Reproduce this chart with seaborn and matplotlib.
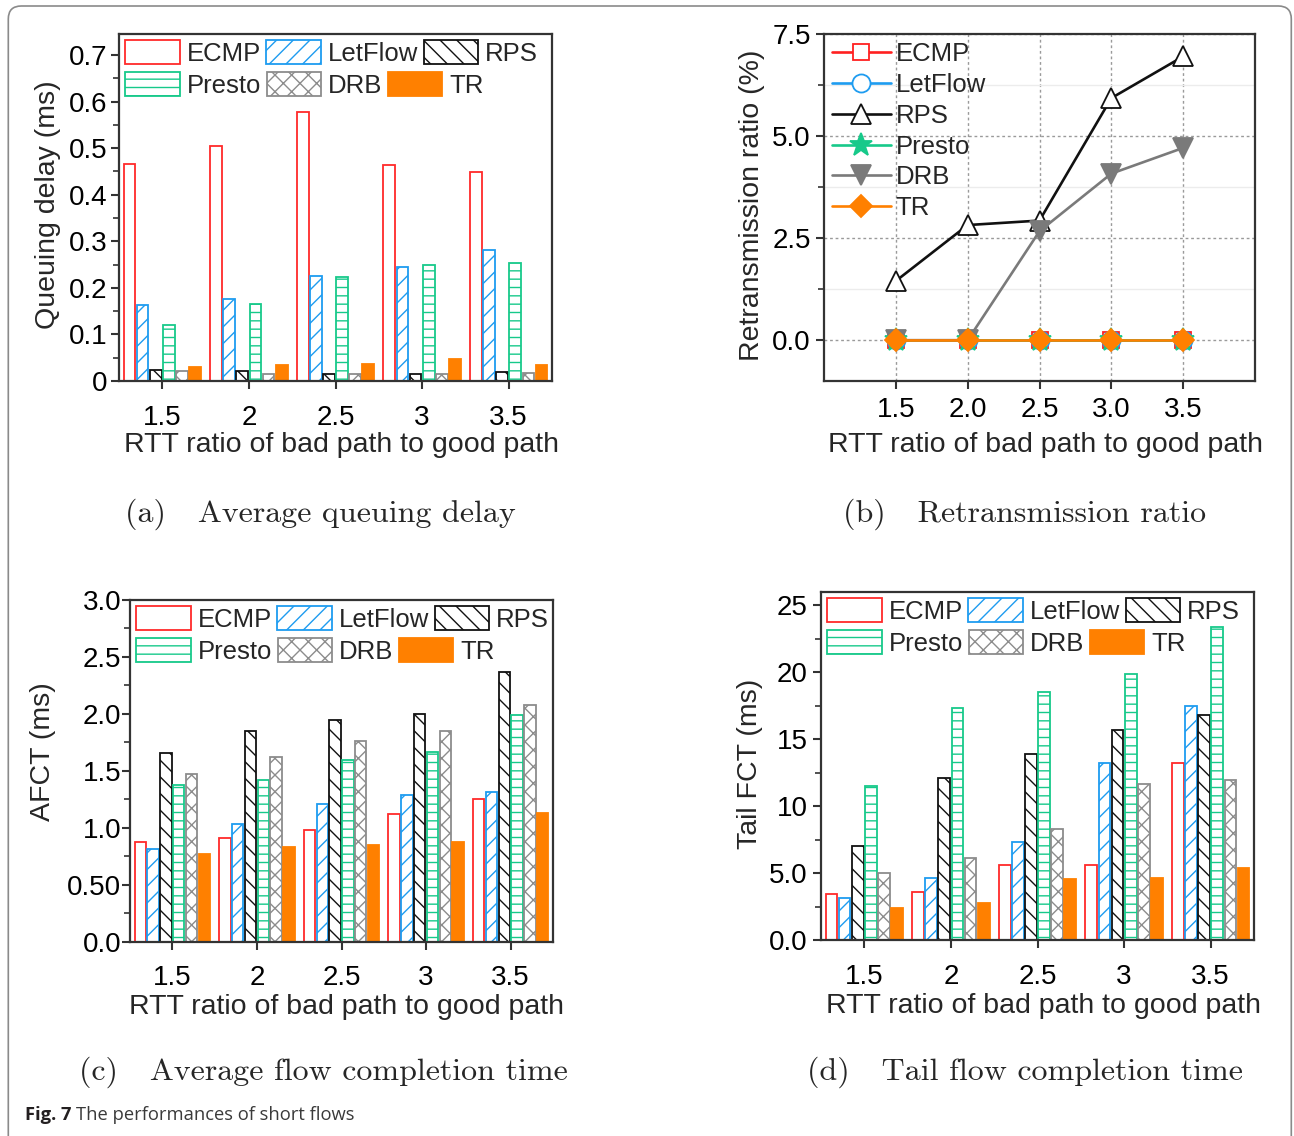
import numpy as np
import pandas as pd
import matplotlib
matplotlib.use("Agg")
import matplotlib.pyplot as plt
import matplotlib.transforms as mtransforms
import seaborn as sns
from matplotlib.patches import FancyBboxPatch, Patch
from matplotlib.ticker import MultipleLocator, FixedLocator, FixedFormatter

# ---------------------------------------------------------------- data
schemes = ["ECMP", "LetFlow", "RPS", "Presto", "DRB", "TR"]
rtt_labels = ["1.5", "2", "2.5", "3", "3.5"]
rtt_values = [1.5, 2.0, 2.5, 3.0, 3.5]
rtt_tick_labels_b = ["1.5", "2.0", "2.5", "3.0", "3.5"]

# average queuing delay (ms)
queuing_delay = {
    "ECMP":    [0.466, 0.505, 0.578, 0.464, 0.449],
    "LetFlow": [0.163, 0.176, 0.225, 0.245, 0.282],
    "RPS":     [0.024, 0.022, 0.016, 0.015, 0.019],
    "Presto":  [0.121, 0.165, 0.224, 0.249, 0.254],
    "DRB":     [0.022, 0.015, 0.015, 0.015, 0.018],
    "TR":      [0.029, 0.034, 0.036, 0.047, 0.034],
}

# retransmission ratio (%)
retrans_ratio = {
    "ECMP":    [0.0, 0.0, 0.0, 0.0, 0.0],
    "LetFlow": [0.0, 0.0, 0.0, 0.0, 0.0],
    "RPS":     [1.45, 2.82, 2.93, 5.93, 6.95],
    "Presto":  [0.0, 0.0, 0.0, 0.0, 0.0],
    "DRB":     [0.0, 0.0, 2.67, 4.08, 4.71],
    "TR":      [0.0, 0.0, 0.0, 0.0, 0.0],
}

# average flow completion time (ms)
afct = {
    "ECMP":    [0.87, 0.913, 0.978, 1.122, 1.256],
    "LetFlow": [0.81, 1.034, 1.207, 1.286, 1.309],
    "RPS":     [1.66, 1.852, 1.946, 1.995, 2.368],
    "Presto":  [1.374, 1.42, 1.597, 1.667, 1.987],
    "DRB":     [1.47, 1.62, 1.758, 1.852, 2.075],
    "TR":      [0.767, 0.829, 0.852, 0.875, 1.13],
}

# tail flow completion time (ms)
tail_fct = {
    "ECMP":    [3.47, 3.61, 5.59, 5.62, 13.19],
    "LetFlow": [3.12, 4.65, 7.35, 13.19, 17.52],
    "RPS":     [7.05, 12.13, 13.93, 15.69, 16.83],
    "Presto":  [11.53, 17.37, 18.56, 19.85, 23.36],
    "DRB":     [4.97, 6.14, 8.29, 11.63, 11.98],
    "TR":      [2.40, 2.77, 4.53, 4.63, 5.40],
}

# ---------------------------------------------------------------- styles
edge_colors = {
    "ECMP": "#ff2a2a", "LetFlow": "#1e9cf0", "RPS": "#111111",
    "Presto": "#17c98a", "DRB": "#8c8c8c", "TR": "#ff8000",
}
face_colors = {
    "ECMP": "white", "LetFlow": "white", "RPS": "white",
    "Presto": "white", "DRB": "white", "TR": "#ff8000",
}
hatches = {
    "ECMP": "", "LetFlow": "//", "RPS": "\\\\",
    "Presto": "--", "DRB": "xx", "TR": "",
}

sns.set_style("ticks")
plt.rcParams["font.family"] = ["Liberation Sans", "DejaVu Sans"]
plt.rcParams["hatch.linewidth"] = 1.0
plt.rcParams["axes.linewidth"] = 1.6
plt.rcParams["axes.edgecolor"] = "#333333"

TICK_FS = 20
LABEL_FS = 20.5
LEGEND_FS = 18.5
SUB_FS = 23

fig = plt.figure(figsize=(12.94, 11.36), dpi=100)

W, H = 1294.0, 1136.0


def axes_px(left, top, right, bottom):
    return fig.add_axes([left / W, 1 - bottom / H, (right - left) / W, (bottom - top) / H])


def style_ticks(ax, xpad, ypad):
    ax.tick_params(axis="both", which="major", direction="out", length=6, width=1.5,
                   color="#333333", labelsize=TICK_FS, labelcolor="black")
    ax.tick_params(axis="y", which="minor", direction="out", length=4, width=1.2, color="#333333")
    ax.tick_params(axis="x", which="major", pad=xpad)
    ax.tick_params(axis="y", which="major", pad=ypad)
    for s in ax.spines.values():
        s.set_visible(True)
        s.set_linewidth(1.6)
        s.set_color("#333333")


def legend_row(ax, names, drop_px):
    handles = [Patch(facecolor=face_colors[s], edgecolor=edge_colors[s],
                     hatch=hatches[s], linewidth=1.3, label=s) for s in names]
    shift = mtransforms.ScaledTranslation(0, -drop_px / 100.0, fig.dpi_scale_trans)
    return ax.legend(handles=handles, ncol=3, loc="upper left", bbox_to_anchor=(0.0, 1.0),
                     bbox_transform=ax.transAxes + shift,
                     frameon=False, fontsize=LEGEND_FS, handlelength=2.12, handleheight=1.05,
                     handletextpad=0.28, columnspacing=0.2, borderpad=0.25,
                     borderaxespad=0.0)


def bar_panel(ax, values, ylim, major, minor, yticklabels, ylabel,
              ylabel_x, ylabel_y, xlabel_x, xlabel_y, xpad, ypad):
    rows = []
    for s in schemes:
        for lab, v in zip(rtt_labels, values[s]):
            rows.append({"ratio": lab, "scheme": s, "value": v})
    df = pd.DataFrame(rows)
    sns.barplot(data=df, x="ratio", y="value", hue="scheme", order=rtt_labels,
                hue_order=schemes, width=0.91, gap=0.11, errorbar=None,
                saturation=1, legend=False, ax=ax)
    for container, s in zip(ax.containers, schemes):
        for bar in container:
            bar.set_facecolor(face_colors[s])
            bar.set_edgecolor(edge_colors[s])
            bar.set_hatch(hatches[s])
            bar.set_linewidth(1.3)
    ax.set_xlim(-0.5, 4.5)
    ax.set_ylim(*ylim)
    ax.yaxis.set_major_locator(FixedLocator(major))
    ax.yaxis.set_major_formatter(FixedFormatter(yticklabels))
    ax.yaxis.set_minor_locator(MultipleLocator(minor))
    style_ticks(ax, xpad, ypad)
    ax.set_xlabel("RTT ratio of bad path to good path", fontsize=LABEL_FS)
    ax.xaxis.label.set_va("baseline")
    ax.xaxis.set_label_coords(xlabel_x, xlabel_y)
    ax.set_ylabel(ylabel, fontsize=LABEL_FS)
    ax.yaxis.set_label_coords(ylabel_x, ylabel_y)

    # legend laid out row by row
    top_row = legend_row(ax, schemes[:3], 0)
    ax.add_artist(top_row)
    legend_row(ax, schemes[3:], 31.5)


# (a) average queuing delay
ax_a = axes_px(119, 34, 552, 381)
bar_panel(ax_a, queuing_delay, (0, 0.745),
          [0, 0.1, 0.2, 0.3, 0.4, 0.5, 0.6, 0.7],
          0.05, ["0", "0.1", "0.2", "0.3", "0.4", "0.5", "0.6", "0.7"],
          "Queuing delay (ms)", -0.134, 0.507, 0.514, -0.206, 11.5, 2.2)

# (c) average flow completion time
ax_c = axes_px(130, 600, 553, 941.5)
bar_panel(ax_c, afct, (0, 3.0),
          [0, 0.5, 1.0, 1.5, 2.0, 2.5, 3.0], 0.25,
          ["0.0", "0.50", "1.0", "1.5", "2.0", "2.5", "3.0"],
          "AFCT (ms)", -0.175, 0.556, 0.512, -0.212, 11.0, 0.3)

# (d) tail flow completion time
ax_d = axes_px(821, 592, 1254, 940)
bar_panel(ax_d, tail_fct, (0, 26.0),
          [0, 5, 10, 15, 20, 25], 2.5,
          ["0.0", "5.0", "10", "15", "20", "25"],
          "Tail FCT (ms)", -0.134, 0.507, 0.515, -0.21, 11.0, 3.6)

# (b) retransmission ratio
ax_b = axes_px(824, 34, 1255, 381)
line_colors = {
    "ECMP": "#ff2020", "LetFlow": "#1e9cf0", "RPS": "#111111",
    "Presto": "#17c98a", "DRB": "#7a7a7a", "TR": "#ff8000",
}
line_markers = {
    "ECMP":    dict(marker="s", ms=12, mfc="white"),
    "LetFlow": dict(marker="o", ms=13, mfc="white"),
    "RPS":     dict(marker="^", ms=14, mfc="white"),
    "Presto":  dict(marker="*", ms=17, mfc="#17c98a"),
    "DRB":     dict(marker="v", ms=14, mfc="#7a7a7a"),
    "TR":      dict(marker="D", ms=11, mfc="#ff8000"),
}
for s in schemes:
    st = line_markers[s]
    sns.lineplot(x=rtt_values, y=retrans_ratio[s], ax=ax_b, color=line_colors[s],
                 linewidth=1.9, marker=st["marker"], markersize=st["ms"],
                 markerfacecolor=st["mfc"], markeredgecolor=line_colors[s],
                 markeredgewidth=1.3, label=s, zorder=3)
ax_b.set_xlim(1.0, 4.0)
ax_b.set_ylim(-1.0, 7.5)
ax_b.xaxis.set_major_locator(FixedLocator(rtt_values))
ax_b.xaxis.set_major_formatter(FixedFormatter(rtt_tick_labels_b))
ax_b.yaxis.set_major_locator(FixedLocator([0.0, 2.5, 5.0, 7.5]))
ax_b.yaxis.set_major_formatter(FixedFormatter(["0.0", "2.5", "5.0", "7.5"]))
ax_b.yaxis.set_minor_locator(MultipleLocator(1.25))
style_ticks(ax_b, 5.5, 3.6)
ax_b.grid(which="major", linestyle=(0, (2, 2)), color="#9a9a9a", linewidth=1.0, zorder=0)
ax_b.grid(which="minor", axis="y", linestyle="-", color="#ececec", linewidth=1.0, zorder=0)
ax_b.set_axisbelow(True)
ax_b.set_xlabel("RTT ratio of bad path to good path", fontsize=LABEL_FS)
ax_b.xaxis.label.set_va("baseline")
ax_b.xaxis.set_label_coords(0.513, -0.206)
ax_b.set_ylabel("Retransmission ratio (%)", fontsize=LABEL_FS)
ax_b.yaxis.set_label_coords(-0.137, 0.507)
ax_b.legend(loc="upper left", bbox_to_anchor=(0.0, 1.0), frameon=False,
            fontsize=LEGEND_FS, handlelength=2.3, handletextpad=0.18,
            labelspacing=0.27, borderpad=0.3, borderaxespad=0.0)

# ---------------------------------------------------------------- captions
sub_kw = dict(fontsize=SUB_FS, family="cmr10", ha="center", va="baseline")
fig.text(320 / W, 1 - 521.7 / H, "(a)   Average queuing delay", **sub_kw)
fig.text(1025 / W, 1 - 521.7 / H, "(b)   Retransmission ratio", **sub_kw)
fig.text(323 / W, 1 - 1080 / H, "(c)   Average flow completion time", **sub_kw)
fig.text(1025 / W, 1 - 1080 / H, "(d)   Tail flow completion time", **sub_kw)

cap_y = 1 - 1120 / H
t1 = fig.text(25 / W, cap_y, "Fig. 7", fontsize=13.2, family="Open Sans",
              weight="bold", color="#231f20", va="baseline")
renderer = fig.canvas.get_renderer()
bb = t1.get_window_extent(renderer)
fig.text((bb.x1 + 4) / W, cap_y, "The performances of short flows", fontsize=13.2,
         family="Open Sans", color="#3a3a3a", va="baseline")

# outer rounded frame, open at the bottom edge
frame = FancyBboxPatch((0.083, -0.5), 12.83, 11.80,
                       boxstyle="round,pad=0,rounding_size=0.13",
                       transform=fig.dpi_scale_trans, fill=False,
                       edgecolor="#8a8a8a", linewidth=1.2, zorder=-1)
fig.add_artist(frame)

fig.savefig("out.png", dpi=100)
